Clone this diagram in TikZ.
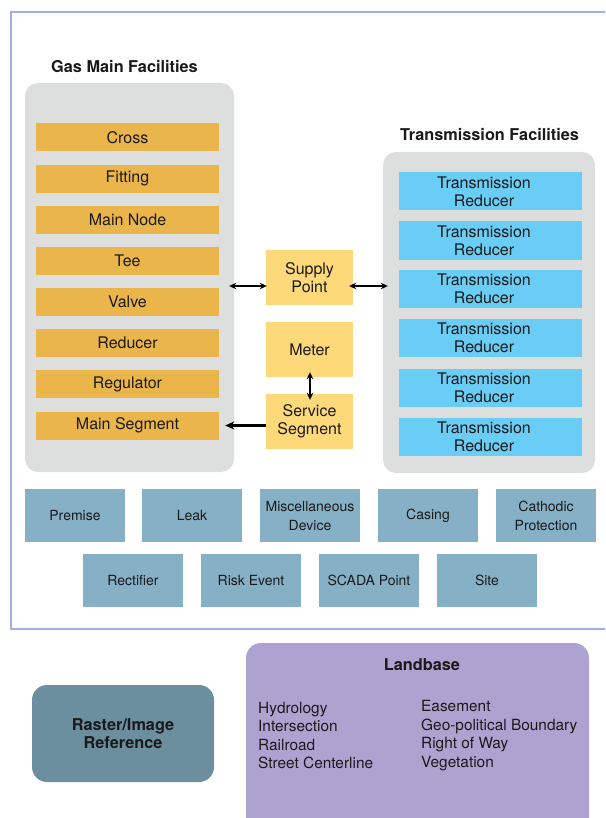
\documentclass[tikz,border=0pt]{standalone}
\usepackage{fontspec}
\setmainfont{TeX Gyre Heros}
\usetikzlibrary{arrows.meta}
\definecolor{framec}{HTML}{9DB1E5}
\definecolor{grayc}{HTML}{DCDFDE}
\definecolor{orangec}{HTML}{EAB54A}
\definecolor{yellowc}{HTML}{FDD97A}
\definecolor{bluec}{HTML}{6ACDF5}
\definecolor{steelc}{HTML}{86B0C6}
\definecolor{rasterc}{HTML}{6C8FA0}
\definecolor{landc}{HTML}{ADA3D0}
\definecolor{txt}{HTML}{1A1A1A}
\newcommand{\trtext}{\hspace*{-13pt}Transmission\\\hspace*{-13pt}Reducer}
\begin{document}
\begin{tikzpicture}[x=1pt,y=-1pt,
  every node/.style={text=txt, inner sep=0pt},
  container/.style={fill=grayc, rounded corners=13pt},
  obox/.style={fill=orangec, minimum width=183pt, minimum height=28pt, font=\fontsize{16}{18}\selectfont},
  tbox/.style={fill=bluec, text width=183pt, minimum height=38pt, align=center, font=\fontsize{16}{18}\selectfont},
  ybox/.style={fill=yellowc, minimum width=87pt, minimum height=55pt, align=center, font=\fontsize{16}{18}\selectfont},
  sbox/.style={fill=steelc, minimum width=100pt, minimum height=53pt, align=center, font=\fontsize{14}{19}\selectfont},
  title/.style={font=\bfseries\fontsize{16.3}{19}\selectfont},
  listtxt/.style={align=left, anchor=west, font=\fontsize{15.4}{18.6}\selectfont},
  arr/.style={line width=1.5pt, {Stealth[length=7pt,width=6.5pt]}-{Stealth[length=7pt,width=6.5pt]}},
  arrone/.style={line width=2.2pt, -{Stealth[length=9pt,width=8pt]}}
]
\useasboundingbox (0,0) rectangle (605,818);
\clip (0,0) rectangle (605,818);

% outer frame
\draw[framec, line width=1.2pt] (11,12) rectangle (640,629);

% titles
\node[title] (gastitle) at (124.5,67) {Gas Main Facilities};
\node[title] (trtitle) at (489.5,135) {Transmission Facilities};

% containers
\node[container, minimum width=209pt, minimum height=389pt] (gasc) at (129.5,277.5) {};
\node[container, minimum width=212pt, minimum height=321pt] (trc) at (489,312.5) {};

% gas main items
\node[obox] (cross) at (127.5,137.5) {Cross};
\node[obox] (fitting) at (127.5,178.6) {Fitting};
\node[obox] (mainnode) at (127.5,219.8) {Main Node};
\node[obox] (tee) at (127.5,260.9) {Tee};
\node[obox] (valve) at (127.5,302.1) {Valve};
\node[obox] (reducer) at (127.5,343.2) {Reducer};
\node[obox] (regulator) at (127.5,384.4) {Regulator};
\node[obox] (mainseg) at (127.5,425.5) {Main Segment};

% transmission items
\node[tbox] (tr1) at (490.5,191.5) {\trtext};
\node[tbox] (tr2) at (490.5,240.5) {\trtext};
\node[tbox] (tr3) at (490.5,288.5) {\trtext};
\node[tbox] (tr4) at (490.5,337.5) {\trtext};
\node[tbox] (tr5) at (490.5,387.5) {\trtext};
\node[tbox] (tr6) at (490.5,436.5) {\trtext};

% middle
\node[ybox] (supply) at (309.5,277.5) {Supply\\Point};
\node[ybox] (meter) at (309.5,349.5) {Meter};
\node[ybox] (service) at (309.5,421.5) {Service\\Segment};

% connectors
\draw[arr, shorten >=-5pt, shorten <=-1pt] (supply.west |- 0,286) -- (gasc.east |- 0,286);
\draw[arr, shorten <=-4pt, shorten >=-5pt] (supply.east |- 0,286) -- (trc.west |- 0,286);
\draw[arr, shorten <=-5pt, shorten >=-6pt] (meter.south -| 310,0) -- (service.north -| 310,0);
\draw[arrone, shorten >=6pt] (service.west |- mainseg.east) -- (mainseg.east);

% bottom rows
\node[sbox] (premise) at (75,515.5) {Premise};
\node[sbox] (leak) at (192,515.5) {Leak};
\node[sbox] (misc) at (310,515.5) {Miscellaneous\\Device};
\node[sbox] (casing) at (428,515.5) {Casing};
\node[sbox] (cathodic) at (546,515.5) {Cathodic\\Protection};
\node[sbox] (rectifier) at (133,580) {Rectifier};
\node[sbox] (risk) at (251,580) {Risk Event};
\node[sbox] (scada) at (369,580) {SCADA Point};
\node[sbox] (site) at (487,580) {Site};

% raster
\node[fill=rasterc, rounded corners=15pt, minimum width=182pt, minimum height=97pt, align=center,
      font=\bfseries\fontsize{16.3}{18}\selectfont] (raster) at (123,733.5) {Raster/Image\\Reference};

% landbase
\node[fill=landc, rounded corners=15pt, minimum width=343pt, minimum height=200pt] (land) at (417.5,743) {};
\node[title] (landtitle) at (422,664.5) {Landbase};
\node[listtxt] (landl) at (258,735.5) {Hydrology\\Intersection\\Railroad\\Street Centerline};
\node[listtxt] (landr) at (421,735.5) {Easement\\Geo-political Boundary\\Right of Way\\Vegetation};
\end{tikzpicture}
\end{document}
